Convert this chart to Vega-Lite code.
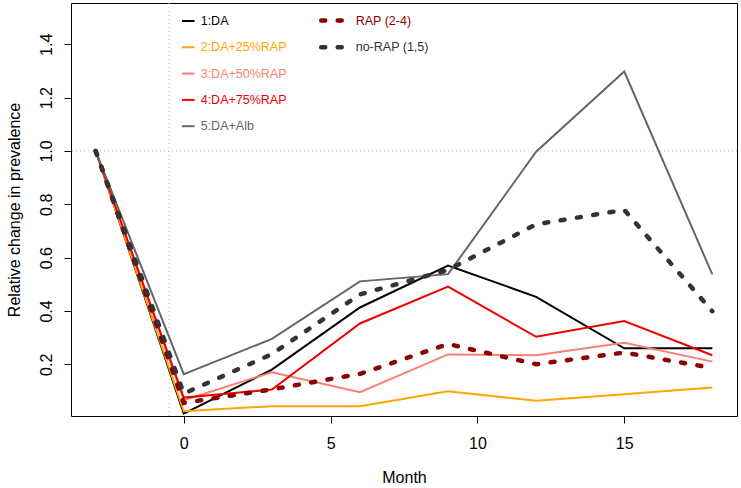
{
  "$schema": "https://vega.github.io/schema/vega-lite/v6.json",
  "width": 666,
  "height": 413,
  "autosize": {"type": "none"},
  "padding": {"left": 71, "top": 3, "right": 4, "bottom": 72},
  "background": "white",
  "config": {
    "view": {"stroke": "black", "strokeWidth": 1},
    "font": "Liberation Sans",
    "axis": {
      "domain": false, "grid": false, "tickColor": "black", "tickSize": 7, "tickWidth": 1,
      "labelColor": "black", "labelFont": "Liberation Sans", "labelFontSize": 16,
      "titleFont": "Liberation Sans", "titleFontSize": 16, "titleFontWeight": "normal", "titleColor": "black"
    }
  },
  "datasets": {
    "series": [
      {"month": -3, "series": "1:DA", "value": 1.0},
      {"month": 0, "series": "1:DA", "value": 0.015},
      {"month": 3, "series": "1:DA", "value": 0.18},
      {"month": 6, "series": "1:DA", "value": 0.413},
      {"month": 9, "series": "1:DA", "value": 0.57},
      {"month": 12, "series": "1:DA", "value": 0.453},
      {"month": 15, "series": "1:DA", "value": 0.26},
      {"month": 18, "series": "1:DA", "value": 0.26},
      {"month": -3, "series": "2:DA+25%RAP", "value": 1.0},
      {"month": 0, "series": "2:DA+25%RAP", "value": 0.024},
      {"month": 3, "series": "2:DA+25%RAP", "value": 0.043},
      {"month": 6, "series": "2:DA+25%RAP", "value": 0.043},
      {"month": 9, "series": "2:DA+25%RAP", "value": 0.099},
      {"month": 12, "series": "2:DA+25%RAP", "value": 0.063},
      {"month": 15, "series": "2:DA+25%RAP", "value": 0.088},
      {"month": 18, "series": "2:DA+25%RAP", "value": 0.113},
      {"month": -3, "series": "3:DA+50%RAP", "value": 1.0},
      {"month": 0, "series": "3:DA+50%RAP", "value": 0.065},
      {"month": 3, "series": "3:DA+50%RAP", "value": 0.17},
      {"month": 6, "series": "3:DA+50%RAP", "value": 0.095},
      {"month": 9, "series": "3:DA+50%RAP", "value": 0.237},
      {"month": 12, "series": "3:DA+50%RAP", "value": 0.234},
      {"month": 15, "series": "3:DA+50%RAP", "value": 0.281},
      {"month": 18, "series": "3:DA+50%RAP", "value": 0.21},
      {"month": -3, "series": "4:DA+75%RAP", "value": 1.0},
      {"month": 0, "series": "4:DA+75%RAP", "value": 0.075},
      {"month": 3, "series": "4:DA+75%RAP", "value": 0.105},
      {"month": 6, "series": "4:DA+75%RAP", "value": 0.353},
      {"month": 9, "series": "4:DA+75%RAP", "value": 0.491},
      {"month": 12, "series": "4:DA+75%RAP", "value": 0.303},
      {"month": 15, "series": "4:DA+75%RAP", "value": 0.362},
      {"month": 18, "series": "4:DA+75%RAP", "value": 0.234},
      {"month": -3, "series": "5:DA+Alb", "value": 1.0},
      {"month": 0, "series": "5:DA+Alb", "value": 0.163},
      {"month": 3, "series": "5:DA+Alb", "value": 0.295},
      {"month": 6, "series": "5:DA+Alb", "value": 0.511},
      {"month": 9, "series": "5:DA+Alb", "value": 0.538},
      {"month": 12, "series": "5:DA+Alb", "value": 0.997},
      {"month": 15, "series": "5:DA+Alb", "value": 1.298},
      {"month": 18, "series": "5:DA+Alb", "value": 0.537}
    ],
    "groups": [
      {"month": -3, "group": "RAP (2-4)", "value": 1.0},
      {"month": 0, "group": "RAP (2-4)", "value": 0.055},
      {"month": 3, "group": "RAP (2-4)", "value": 0.106},
      {"month": 6, "group": "RAP (2-4)", "value": 0.164},
      {"month": 9, "group": "RAP (2-4)", "value": 0.276},
      {"month": 12, "group": "RAP (2-4)", "value": 0.2},
      {"month": 15, "group": "RAP (2-4)", "value": 0.244},
      {"month": 18, "group": "RAP (2-4)", "value": 0.186},
      {"month": -3, "group": "no-RAP (1,5)", "value": 1.0},
      {"month": 0, "group": "no-RAP (1,5)", "value": 0.09},
      {"month": 3, "group": "no-RAP (1,5)", "value": 0.238},
      {"month": 6, "group": "no-RAP (1,5)", "value": 0.462},
      {"month": 9, "group": "no-RAP (1,5)", "value": 0.554},
      {"month": 12, "group": "no-RAP (1,5)", "value": 0.725},
      {"month": 15, "group": "no-RAP (1,5)", "value": 0.779},
      {"month": 18, "group": "no-RAP (1,5)", "value": 0.399}
    ],
    "refs": [{"hy": 1, "vx": -0.5}]
  },
  "layer": [
    {
      "data": {"name": "refs"},
      "mark": {"type": "rule", "stroke": "#BEBEBE", "strokeDash": [1, 3], "strokeWidth": 1},
      "encoding": {
        "y": {"field": "hy", "type": "quantitative", "title": "Relative change in prevalence"}
      }
    },
    {
      "data": {"name": "refs"},
      "mark": {"type": "rule", "stroke": "#BEBEBE", "strokeDash": [1, 3], "strokeWidth": 1},
      "encoding": {
        "x": {"field": "vx", "type": "quantitative", "title": "Month"}
      }
    },
    {
      "data": {"name": "series"},
      "mark": {"type": "line", "strokeWidth": 2},
      "encoding": {
        "x": {
          "field": "month", "type": "quantitative", "title": "Month",
          "scale": {"domain": [-3.84, 18.84], "nice": false, "zero": false},
          "axis": {"values": [0, 5, 10, 15], "format": "d", "labelPadding": 12, "titlePadding": 18}
        },
        "y": {
          "field": "value", "type": "quantitative", "title": "Relative change in prevalence",
          "scale": {"domain": [0.006, 1.555], "nice": false, "zero": false},
          "axis": {"values": [0.2, 0.4, 0.6, 0.8, 1.0, 1.2, 1.4], "format": ".1f", "labelAngle": -90,
                   "labelAlign": "center", "labelBaseline": "alphabetic", "labelPadding": 13, "titlePadding": 16}
        },
        "color": {
          "field": "series", "type": "nominal",
          "scale": {"domain": ["1:DA", "2:DA+25%RAP", "3:DA+50%RAP", "4:DA+75%RAP", "5:DA+Alb"],
                    "range": ["#000000", "#FFA500", "#FA8072", "#EE0000", "#666666"]},
          "legend": {
            "orient": "none", "legendX": 109.7, "legendY": 10.5, "title": null, "padding": 0,
            "symbolType": "stroke", "symbolSize": 160, "symbolStrokeWidth": 2,
            "labelFont": "Liberation Sans", "labelFontSize": 12.5, "labelOffset": 5, "rowPadding": 12.3, "labelLimit": 300,
            "encode": {
              "labels": {"update": {"fill": {"signal": "datum.value === '1:DA' ? '#000000' : datum.value === '2:DA+25%RAP' ? '#FFA500' : datum.value === '3:DA+50%RAP' ? '#FA8072' : datum.value === '4:DA+75%RAP' ? '#EE0000' : '#666666'"}}}
            }
          }
        }
      }
    },
    {
      "data": {"name": "groups"},
      "mark": {"type": "line", "strokeWidth": 4.5, "strokeDash": [4, 12.5], "strokeCap": "round"},
      "encoding": {
        "x": {"field": "month", "type": "quantitative", "title": "Month"},
        "y": {"field": "value", "type": "quantitative", "title": "Relative change in prevalence"},
        "color": {
          "field": "group", "type": "nominal",
          "scale": {"domain": ["RAP (2-4)", "no-RAP (1,5)"], "range": ["#8B0000", "#333333"]},
          "legend": {
            "orient": "none", "legendX": 247.7, "legendY": 4.5, "title": null, "padding": 0,
            "symbolType": "stroke", "symbolSize": 441, "symbolStrokeWidth": 4.5, "symbolDash": [4, 12.5],
            "labelFont": "Liberation Sans", "labelFontSize": 12.5, "labelOffset": 11, "rowPadding": 4.7, "labelLimit": 300,
            "encode": {
              "symbols": {"update": {"strokeCap": {"value": "round"}}},
              "labels": {"update": {"fill": {"signal": "datum.value === 'RAP (2-4)' ? '#8B0000' : '#333333'"}}}
            }
          }
        }
      }
    }
  ],
  "resolve": {"scale": {"color": "independent"}, "legend": {"color": "independent"}}
}
